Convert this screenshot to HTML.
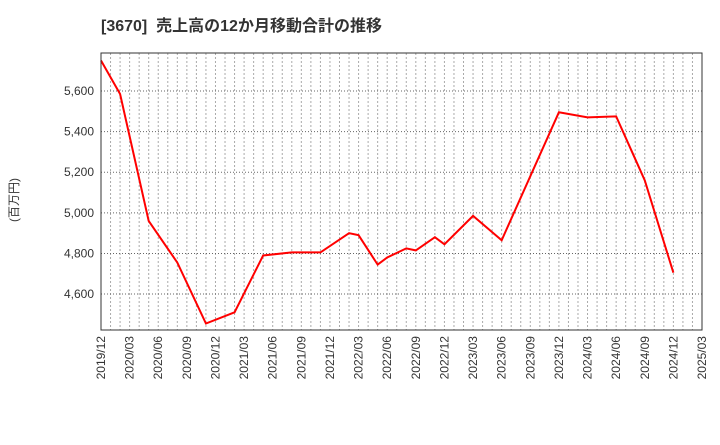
<!DOCTYPE html>
<html><head><meta charset="utf-8"><style>
body{margin:0;background:#fff;font-family:"Liberation Sans","Noto Sans CJK JP",sans-serif}
</style></head><body>
<svg width="720" height="440">
<text x="101" y="31" font-size="16" font-weight="bold" fill="#333" xml:space="preserve">[3670]  売上高の12か月移動合計の推移</text>
<text transform="translate(18,200) rotate(-90)" text-anchor="middle" font-size="12" fill="#333">(百万円)</text>
<g id="grid"></g><g id="axes"></g>
<polyline id="line" fill="none" stroke="#f00" stroke-width="2"/>
<rect x="101" y="53" width="601" height="277" fill="none" stroke="#333"/>
</svg>
<script>
const months=[0,2,5,8,11,14,17,20,23,26,27,29,30,32,33,35,36,39,42,48,51,54,57,60];
const values=[5750,5585,4960,4755,4455,4510,4790,4805,4805,4900,4890,4745,4780,4825,4815,4880,4845,4985,4865,5495,5470,5475,5160,4705];
const yTicks=[4600,4800,5000,5200,5400,5600];
const xLabels=["2019/12","2020/03","2020/06","2020/09","2020/12","2021/03","2021/06","2021/09","2021/12","2022/03","2022/06","2022/09","2022/12","2023/03","2023/06","2023/09","2023/12","2024/03","2024/06","2024/09","2024/12","2025/03"];
const X0=101,X1=702,Y0=330,Y1=53,totalM=63,vMin=4423,vMax=5787;
const xs=m=>X0+(X1-X0)*m/totalM;
const ys=v=>Y0-(Y0-Y1)*(v-vMin)/(vMax-vMin);
const NS="http://www.w3.org/2000/svg";
const grid=document.getElementById('grid'),axes=document.getElementById('axes');
for(let m=1;m<totalM;m++){
 const l=document.createElementNS(NS,'line');
 l.setAttribute('x1',xs(m));l.setAttribute('x2',xs(m));l.setAttribute('y1',Y1);l.setAttribute('y2',Y0);
 l.setAttribute('stroke','#aaa');l.setAttribute('stroke-dasharray','2,2');
 
 
 grid.appendChild(l);}
yTicks.forEach(v=>{
 const l=document.createElementNS(NS,'line');
 l.setAttribute('x1',X0);l.setAttribute('x2',X1);l.setAttribute('y1',ys(v));l.setAttribute('y2',ys(v));
 l.setAttribute('stroke','#666');l.setAttribute('stroke-dasharray','1,2');
 
 
 grid.appendChild(l);
 const t=document.createElementNS(NS,'text');
 t.setAttribute('x',X0-7);t.setAttribute('y',ys(v)+4);t.setAttribute('text-anchor','end');t.setAttribute('font-size','12');t.setAttribute('fill','#333');
 t.textContent=v.toLocaleString('en-US');
 
 
 axes.appendChild(t);});
xLabels.forEach((s,i)=>{
 const x=xs(i*3),t=document.createElementNS(NS,'text');
 t.setAttribute('transform',`translate(${x+4},336) rotate(-90)`);t.setAttribute('text-anchor','end');t.setAttribute('font-size','12');t.setAttribute('fill','#333');
 t.textContent=s;
 
 
 axes.appendChild(t);});
document.getElementById('line').setAttribute('points',months.map((m,i)=>xs(m)+','+ys(values[i])).join(' '));
</script>
</body></html>
